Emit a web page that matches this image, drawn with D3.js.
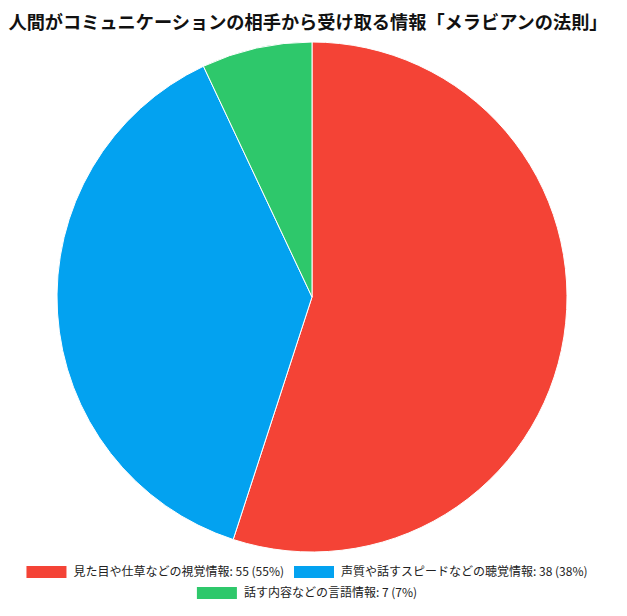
<!DOCTYPE html>
<html>
<head>
<meta charset="utf-8">
<script src="https://cdn.jsdelivr.net/npm/d3@7"></script>
<style>
  body { margin: 0; background: #fff; }
  text { font-family: "Noto Sans CJK JP", "Noto Sans", sans-serif; }
</style>
</head>
<body>
<div id="chart"></div>
<script>
const labels = ['見た目や仕草などの視覚情報', '声質や話すスピードなどの聴覚情報', '話す内容などの言語情報']
const values = [55, 38, 7]
const colors = ['#f44336', '#03a2f0', '#2ec86b']
const title = '人間がコミュニケーションの相手から受け取る情報「メラビアンの法則」'

const width = 627
const height = 616

const svg = d3.select('#chart')
  .append('svg')
  .attr('width', width)
  .attr('height', height)

svg.append('text')
  .attr('x', 308)
  .attr('y', 29)
  .attr('text-anchor', 'middle')
  .attr('font-size', 18.2)
  .attr('font-weight', 'bold')
  .attr('fill', '#111')
  .text(title)

const cx = 312
const cy = 297
const radius = 255

const total = d3.sum(values)
const data = labels.map((l, i) => ({ label: l, value: values[i], color: colors[i] }))

const pie = d3.pie().value(d => d.value).sort(null)
const arc = d3.arc().innerRadius(0).outerRadius(radius)

const g = svg.append('g').attr('transform', 'translate(' + cx + ',' + cy + ')')

g.selectAll('path')
  .data(pie(data))
  .enter()
  .append('path')
  .attr('d', arc)
  .attr('fill', d => d.data.color)
  .attr('stroke', '#fff')
  .attr('stroke-width', 1)

// legend: two rows, centered
const legendRows = [[0, 1], [2]]
const rowY = [572, 593]
const fontSize = 12
const swW = 40, swH = 12, gap = 7, itemGap = 10
const legendCenter = 307

legendRows.forEach((row, r) => {
  const rowG = svg.append('g')
  let x = 0
  row.forEach(i => {
    const d = data[i]
    const item = rowG.append('g').attr('transform', 'translate(' + x + ',0)')
    item.append('rect')
      .attr('x', 0)
      .attr('y', -swH / 2)
      .attr('width', swW)
      .attr('height', swH)
      .attr('fill', d.color)
    const t = item.append('text')
      .attr('x', swW + gap)
      .attr('y', 0)
      .attr('dy', '0.35em')
      .attr('font-size', fontSize)
      .attr('fill', '#222')
      .text(d.label + ': ' + d.value + ' (' + Math.round(d.value / total * 100) + '%)')
    x += swW + gap + t.node().getComputedTextLength() + itemGap
  })
  const w = x - itemGap
  rowG.attr('transform', 'translate(' + (legendCenter - w / 2) + ',' + rowY[r] + ')')
})
</script>
</body>
</html>
